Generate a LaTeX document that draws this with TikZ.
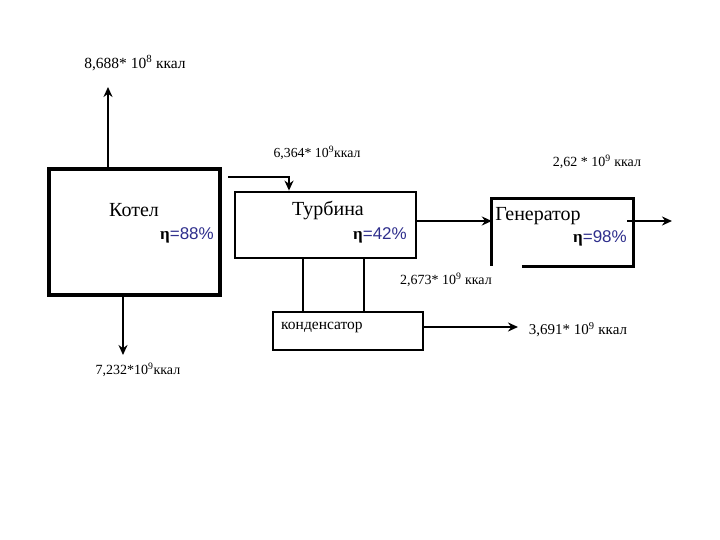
\documentclass[tikz,border=0pt]{standalone}
\usepackage{fontspec}
\setmainfont{Liberation Serif}
\newfontfamily\arialf{Liberation Sans}
\usetikzlibrary{arrows.meta,calc}
\definecolor{cNavy}{HTML}{2E2E8C}
\newcommand{\kpd}[1]{\textbf{η}{\arialf\color{cNavy}=#1\%}}

\begin{document}
\begin{tikzpicture}[
  x=1pt, y=-1pt,
  >={Stealth[length=10pt,width=9pt]},
  unit/.style={draw=black, line width=2.8pt, inner sep=0pt},
  title/.style={font=\fontsize{20}{22}\selectfont, inner sep=0pt},
  eff/.style={font=\fontsize{17}{19}\selectfont, inner sep=0pt},
  val/.style={font=\fontsize{14}{16}\selectfont, inner sep=0pt},
  flow/.style={->, line width=2.8pt},
  link/.style={line width=2.8pt},
]
\useasboundingbox (0,0) rectangle (720,540);

% ---- boxes
\node[unit, line width=4.8pt, minimum width=171pt, minimum height=126pt] (kotel) at (134.5,232) {};
\node[unit, minimum width=181pt, minimum height=66pt] (turb) at (325.5,225) {};
\node[inner sep=0pt, minimum width=141pt, minimum height=67pt] (gen) at (562.5,232.5) {};
\node[unit, minimum width=150pt, minimum height=38pt] (cond) at (348,331) {};
\draw[link] ([xshift=30pt]gen.south west) -| (gen.north east) -| (gen.south west);

% ---- texts in the boxes
\node[title] (kotelT) at (134,210) {Котел};
\node[eff] (kotelE) at (187,235) {\kpd{88}};
\node[title] (turbT) at (328,210) {Турбина};
\node[eff] (turbE) at (380,235) {\kpd{42}};
\node[title] (genT) at (538,216) {Генератор};
\node[eff] (genE) at (600,238) {\kpd{98}};
\node[val, font=\fontsize{15.5}{17}\selectfont, anchor=west] (condT) at (281,327) {конденсатор};

% ---- flows
\coordinate (topout) at (108,87);
\draw[flow] (kotel.north -| topout) -- (topout);
\node[val, font=\fontsize{15.5}{17}\selectfont] (topL) at (135,63) {8,688* 10\textsuperscript{8} ккал};

\coordinate (botout) at (123,355);
\draw[flow] (kotel.south -| botout) -- (botout);
\node[val] (botL) at (138,370) {7,232*10\textsuperscript{9}ккал};

\coordinate (steam) at (228,177);
\draw[flow] (steam) -| ([xshift=-36.5pt]turb.north);
\node[val, font=\fontsize{13.8}{16}\selectfont] (steamL) at (317,153) {6,364* 10\textsuperscript{9}ккал};

\coordinate (tg) at ([yshift=4pt]turb.east);
\draw[flow] (tg) -- (tg -| gen.west);

\coordinate (genout) at (672,221);
\draw[flow] ([xshift=-6pt]genout -| gen.east) -- (genout);
\node[val] (genL) at (597,162) {2,62 * 10\textsuperscript{9} ккал};

\draw[link] ([xshift=-22.5pt]turb.south) -- ([xshift=-22.5pt]turb.south |- cond.north);
\draw[link] ([xshift=38.5pt]turb.south) -- ([xshift=38.5pt]turb.south |- cond.north);
\node[val] (lossL) at (446,280) {2,673* 10\textsuperscript{9} ккал};

\coordinate (condout) at (518,327);
\draw[flow] (condout -| cond.east) -- (condout);
\node[val, font=\fontsize{15}{17}\selectfont] (condL) at (578,330) {3,691* 10\textsuperscript{9} ккал};
\end{tikzpicture}
\end{document}
